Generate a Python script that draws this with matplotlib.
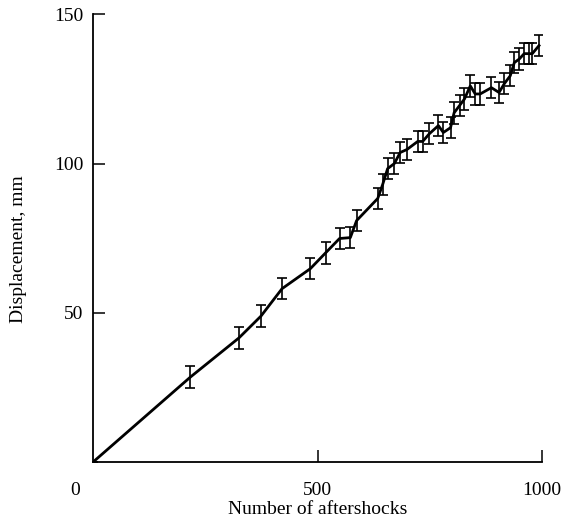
import matplotlib
matplotlib.use("Agg")
import matplotlib.pyplot as plt
import numpy as np

# values
aftershocks = [0, 217, 325, 374, 421, 484, 518, 549, 573, 587, 634, 645, 656,
               671, 684, 699, 723, 734, 749, 769, 780, 796, 804, 816, 827,
               840, 851, 862, 887, 904, 916, 929, 938, 949, 960, 971, 978, 993]
displacement = [0, 28.5, 41.6, 48.9, 58.1, 64.8, 70.1, 74.9, 75.2, 80.9, 88.3,
                93.0, 98.3, 100.0, 103.7, 104.7, 107.4, 107.4, 110.0, 112.7,
                110.4, 112.0, 117.0, 119.4, 121.6, 126.0, 123.3, 123.3, 125.4,
                123.8, 126.8, 129.4, 133.8, 135.0, 136.8, 136.8, 136.8, 139.5]
errors = [0] + [3.6] * (len(aftershocks) - 1)

plt.rcParams['font.family'] = ['Liberation Serif', 'DejaVu Serif']

fig = plt.figure(figsize=(5.63, 5.27), dpi=100)
ax = fig.add_axes([0.165, 0.123, 0.798, 0.850])

ax.errorbar(aftershocks, displacement, yerr=errors, color='black', lw=2.0,
            elinewidth=1.2, capsize=3.8, capthick=1.2)

ax.set_xlim(0, 1000)
ax.set_ylim(0, 150)
ax.set_xticks([500, 1000])
ax.set_yticks([50, 100, 150])
ax.tick_params(direction='in', length=8.5, width=1.1, labelsize=14)
ax.tick_params(axis='x', pad=14)
ax.tick_params(axis='y', pad=7)
ax.spines['top'].set_visible(False)
ax.spines['right'].set_visible(False)
for s in ['left', 'bottom']:
    ax.spines[s].set_linewidth(1.3)

# the corner "0" sits left of the origin in the original
ax.annotate('0', xy=(0, 0), xycoords='axes fraction', xytext=(-13, -14),
            textcoords='offset points', ha='center', va='top', fontsize=14)

ax.set_xlabel('Number of aftershocks', fontsize=14, labelpad=2)
ax.set_ylabel('Displacement, mm', fontsize=14, labelpad=19)
ax.yaxis.label.set_y(0.475)

fig.savefig('out.png', dpi=100)
